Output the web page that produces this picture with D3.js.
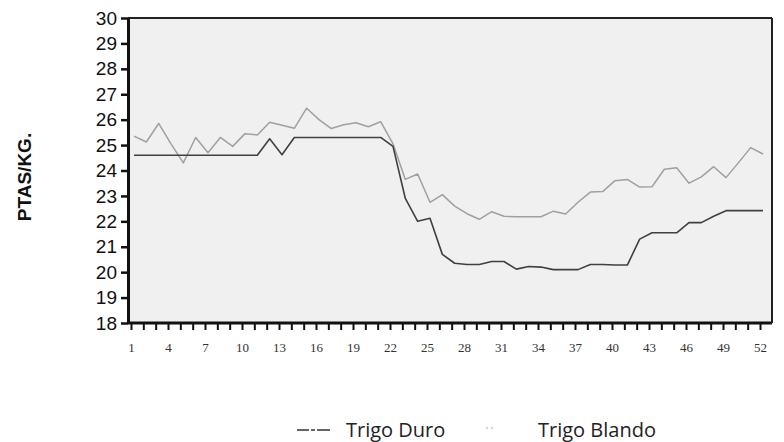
<!DOCTYPE html>
<html>
<head>
<meta charset="utf-8">
<script src="https://cdn.jsdelivr.net/npm/d3@7"></script>
<style>
  body { margin: 0; background: #fff; }
  svg { display: block; }
</style>
</head>
<body>
<svg id="chart" width="784" height="442"></svg>
<script>

// weeks 1..52
let weeks = d3.range(1, 53);

let trigoDuro = [
  24.6, 24.6, 24.6, 24.6, 24.6, 24.6, 24.6, 24.6, 24.6, 24.6,
  24.6, 25.25, 24.62, 25.3, 25.3, 25.3, 25.3, 25.3, 25.3, 25.3,
  25.3, 24.95, 22.9, 22.0, 22.12, 20.7, 20.35, 20.3, 20.3, 20.42,
  20.42, 20.12, 20.22, 20.2, 20.1, 20.1, 20.1, 20.3, 20.3, 20.28,
  20.28, 21.3, 21.55, 21.55, 21.55, 21.95, 21.95, 22.2, 22.42, 22.42,
  22.42, 22.42
];

let trigoBlando = [
  25.35, 25.12, 25.85, 25.05, 24.3, 25.3, 24.7, 25.3, 24.95, 25.45,
  25.4, 25.9, 25.78, 25.66, 26.45, 26.0, 25.65, 25.8, 25.88, 25.72,
  25.92, 25.05, 23.65, 23.86, 22.75, 23.05, 22.6, 22.3, 22.08, 22.38,
  22.2, 22.18, 22.18, 22.18, 22.4, 22.29, 22.75, 23.15, 23.17, 23.6,
  23.65, 23.35, 23.36, 24.05, 24.11, 23.5, 23.75, 24.15, 23.72, 24.3,
  24.9, 24.65
];

let yTicks = d3.range(18, 31);
let xLabels = d3.range(1, 53, 3);
let legendNames = ["Trigo Duro", "Trigo Blando"];

let svg = d3.select("svg#chart");
let margin = { "top": 18, "right": 12, "bottom": 119, "left": 128 };
let width = +svg.attr("width");
let height = +svg.attr("height");
let chartWidth = width - margin.left - margin.right;
let chartHeight = height - margin.top - margin.bottom;

// ticks sit at 131..760, data drawn a little to the right like the original
let xScale = d3.scaleLinear().domain([1, 52]).range([3, 632]);
let dataShift = 3;
let yScale = d3.scaleLinear().domain([18, 30]).range([chartHeight, 0]);

let g = svg.append("g").attr("transform", `translate(${margin.left},${margin.top})`);

// plot background (scanned grey)
g.append("rect")
  .attr("x", 0).attr("y", 0)
  .attr("width", chartWidth).attr("height", chartHeight)
  .attr("fill", "#f0f0f0");

// frame: top + right thin, left + bottom thick
g.append("line").attr("x1", 0).attr("x2", chartWidth).attr("y1", 0).attr("y2", 0)
  .attr("stroke", "#222").attr("stroke-width", 2);
g.append("line").attr("x1", chartWidth).attr("x2", chartWidth).attr("y1", 0).attr("y2", chartHeight)
  .attr("stroke", "#222").attr("stroke-width", 2);

// y axis
let yAxis = d3.axisLeft(yScale).tickValues(yTicks).tickSize(7).tickSizeOuter(0);
let yg = g.append("g").call(yAxis);
yg.select(".domain").attr("stroke", "#111").attr("stroke-width", 3);
yg.selectAll(".tick line").attr("stroke", "#111").attr("stroke-width", 2.5);
yg.selectAll(".tick text")
  .attr("x", -11)
  .attr("fill", "#111")
  .style("font-family", "'Liberation Sans', Arial, sans-serif")
  .style("font-size", "19px");

// x axis
let xAxis = d3.axisBottom(xScale).tickValues(weeks).tickSize(7).tickSizeOuter(0)
  .tickFormat(d => xLabels.includes(d) ? d : "");
let xg = g.append("g").attr("transform", `translate(0,${chartHeight})`).call(xAxis);
xg.select(".domain").attr("d", `M0,0H${chartWidth}`).attr("stroke", "#111").attr("stroke-width", 3);
xg.selectAll(".tick line").attr("stroke", "#111").attr("stroke-width", 2);
xg.selectAll(".tick text")
  .attr("y", 20)
  .attr("fill", "#333")
  .style("font-family", "'Liberation Serif', 'DejaVu Serif', serif")
  .style("font-size", "13px");

// lines
let lineGen = d3.line()
  .x((d, i) => xScale(weeks[i]) + dataShift)
  .y(d => yScale(d));

g.append("path")
  .datum(trigoBlando)
  .attr("fill", "none")
  .attr("stroke", "#a0a0a0")
  .attr("stroke-width", 1.5)
  .attr("stroke-linejoin", "round")
  .attr("d", lineGen);

g.append("path")
  .datum(trigoDuro)
  .attr("fill", "none")
  .attr("stroke", "#404040")
  .attr("stroke-width", 1.6)
  .attr("stroke-linejoin", "round")
  .attr("d", lineGen);

// y title
svg.append("text")
  .attr("transform", "translate(31,177) rotate(-90)")
  .attr("text-anchor", "middle")
  .attr("fill", "#111")
  .style("font-family", "'Liberation Sans', Arial, sans-serif")
  .style("font-weight", "bold")
  .style("font-size", "19px")
  .text("PTAS/KG.");

// legend
let legendFont = "'Open Sans', 'Noto Sans', sans-serif";
svg.append("line")
  .attr("x1", 297).attr("x2", 330).attr("y1", 430).attr("y2", 430)
  .attr("stroke", "#333").attr("stroke-width", 1.4)
  .attr("stroke-dasharray", "12,2,4,2,14");
svg.append("text")
  .attr("x", 346).attr("y", 437)
  .attr("fill", "#222")
  .style("font-family", legendFont)
  .style("font-size", "20px")
  .text(legendNames[0]);

svg.append("line")
  .attr("x1", 486).attr("x2", 493).attr("y1", 428).attr("y2", 428)
  .attr("stroke", "#aaa").attr("stroke-width", 1.2)
  .attr("stroke-dasharray", "2,3");
svg.append("text")
  .attr("x", 538).attr("y", 437)
  .attr("fill", "#222")
  .style("font-family", legendFont)
  .style("font-size", "20px")
  .text(legendNames[1]);

</script>
</body>
</html>
